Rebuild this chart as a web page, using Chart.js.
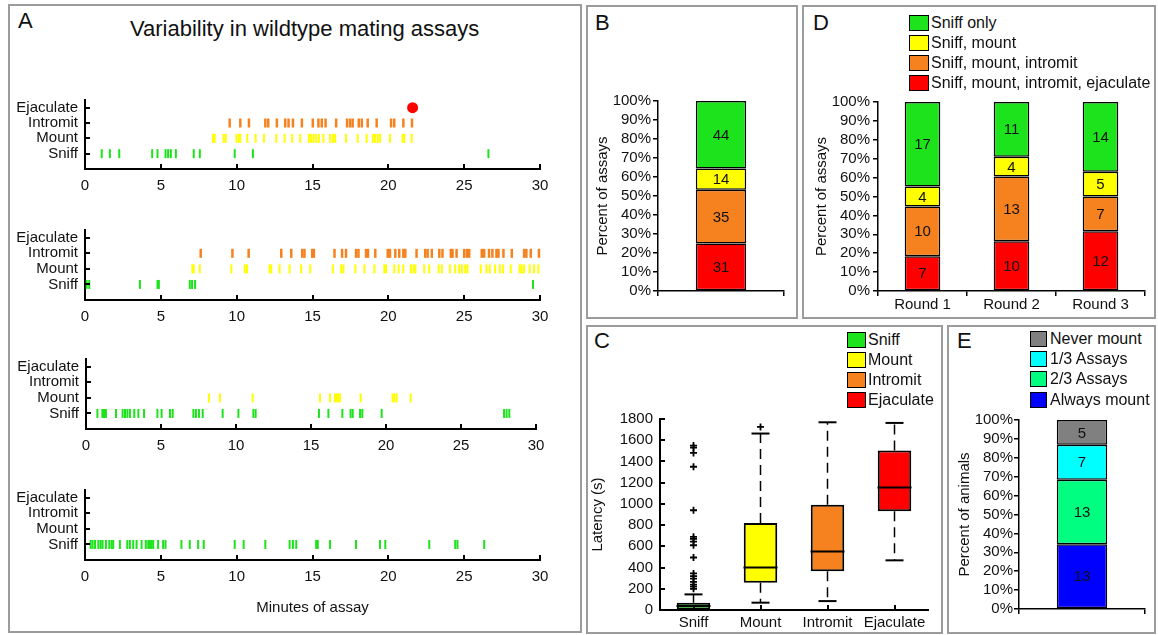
<!DOCTYPE html>
<html>
<head>
<meta charset="utf-8">
<title>Variability in wildtype mating assays</title>
<script src="https://cdn.jsdelivr.net/npm/chart.js@4.4.1/dist/chart.umd.min.js"></script>
<style>
  html, body { margin: 0; padding: 0; background: #fff; }
  body { width: 1158px; height: 635px; position: relative; overflow: hidden;
         font-family: "Liberation Sans", Arial, Helvetica, sans-serif; color: #111; }
  .panel { position: absolute; border: 2px solid #9b9b9b; box-sizing: border-box; }
  .letter { position: absolute; font-size: 22px; line-height: 24px; }
  .title { position: absolute; font-size: 22px; line-height: 24px; white-space: nowrap; }
  canvas { position: absolute; }
  .lg { position: absolute; font-size: 16px; line-height: 18px; white-space: nowrap; }
  .lg .sw { position: absolute; border: 1.5px solid #000; box-sizing: border-box; }
</style>
</head>
<body>
<div class="panel" style="left:8px;top:4px;width:574px;height:629px"></div>
<div class="panel" style="left:586px;top:5px;width:212px;height:314px"></div>
<div class="panel" style="left:802px;top:5px;width:354px;height:314px"></div>
<div class="panel" style="left:586px;top:325px;width:357px;height:309px"></div>
<div class="panel" style="left:947px;top:325px;width:209px;height:309px"></div>

<div class="letter" style="left:18px;top:9px">A</div>
<div class="letter" style="left:595px;top:11px">B</div>
<div class="letter" style="left:813px;top:11px">D</div>
<div class="letter" style="left:594px;top:329px">C</div>
<div class="letter" style="left:957px;top:329px">E</div>
<div class="title" style="left:130px;top:17px">Variability in wildtype mating assays</div>

<canvas id="row1"></canvas>
<canvas id="row2"></canvas>
<canvas id="row3"></canvas>
<canvas id="row4"></canvas>
<canvas id="chartB"></canvas>
<canvas id="chartD"></canvas>
<canvas id="chartC"></canvas>
<canvas id="chartE"></canvas>

<script>
// ---- colours ----
const GREEN = '#1de31d';
const YELLOW = '#ffff00';
const ORANGE = '#f5821f';
const RED = '#ff0000';

// ---- panel A: event times (minutes) for four example assays ----
const behaviourNames = ['Sniff', 'Mount', 'Intromit', 'Ejaculate'];

const assay1Sniff = [1.10, 1.64, 2.26, 4.43, 4.78, 5.31, 5.48, 5.66, 5.99, 7.17, 7.57, 9.87, 11.07, 26.6];
const assay1Mount = [8.44, 8.55, 9.14, 9.28, 9.98, 10.15, 10.24, 10.70, 11.25, 11.80, 12.61, 13.16, 13.66, 14.19,
  14.76, 14.91, 15.07, 15.24, 15.42, 15.72, 16.16, 16.34, 16.49, 17.21, 17.98, 18.57, 18.97, 19.12, 19.30,
  19.45, 20.11, 20.94, 21.05, 21.54];
const assay1Intromit = [9.54, 10.24, 10.81, 11.89, 12.08, 12.65, 13.20, 13.42, 13.71, 14.30, 15.02, 15.39, 15.61,
  15.86, 16.56, 17.28, 17.48, 17.65, 18.05, 18.25, 18.64, 19.23, 20.18, 20.39, 20.99, 21.56];
const assay1Ejaculate = [21.6];

const assay2Sniff = [0.11, 0.28, 3.62, 4.78, 4.87, 6.91, 7.06, 7.26, 29.54];
const assay2Mount = [7.08, 7.17, 7.57, 9.65, 10.53, 10.68, 12.17, 12.28, 12.83, 13.49, 14.25, 14.85, 16.34, 16.89,
  17.04, 17.83, 18.42, 19.08, 19.74, 19.85, 20.39, 20.68, 20.99, 21.49, 21.67, 21.78, 22.37, 22.70, 23.31,
  23.53, 24.06, 24.41, 24.67, 24.85, 25.07, 25.22, 26.10, 26.47, 26.69, 27.04, 27.35, 27.57, 28.07, 28.66,
  28.79, 28.95, 29.32, 29.61, 29.89];
const assay2Intromit = [7.63, 9.72, 10.79, 12.94, 13.60, 14.32, 14.47, 14.98, 15.09, 16.45, 16.95, 17.21, 17.87,
  18.03, 18.53, 18.66, 19.14, 19.96, 20.11, 20.46, 20.72, 20.99, 21.12, 21.86, 22.43, 22.59, 22.87, 23.36,
  23.57, 24.12, 24.23, 24.50, 25.00, 25.18, 25.33, 26.16, 26.32, 26.64, 26.86, 27.13, 27.26, 27.59, 28.14,
  28.95, 29.10, 29.39, 29.93];
const assay2Ejaculate = [];

const assay3Sniff = [0.76, 1.09, 1.20, 1.33, 2.00, 2.44, 2.60, 2.76, 2.93, 3.22, 3.49, 3.87, 4.76, 5.04, 5.60,
  5.78, 7.16, 7.33, 7.53, 7.78, 9.11, 10.16, 11.16, 11.31, 15.53, 16.16, 17.09, 17.64, 17.78, 18.27, 18.42,
  19.71, 27.87, 28.04, 28.22];
const assay3Mount = [8.20, 8.93, 11.11, 15.60, 16.27, 16.60, 16.71, 16.82, 16.93, 18.31, 20.44, 20.56, 20.71, 21.64];
const assay3Intromit = [];
const assay3Ejaculate = [];

const assay4Sniff = [0.37, 0.50, 0.66, 0.88, 1.03, 1.16, 1.38, 1.60, 1.75, 1.86, 2.30, 2.79, 2.96, 3.18, 3.40,
  3.73, 4.01, 4.17, 4.28, 4.39, 4.50, 4.82, 5.15, 5.31, 6.36, 6.91, 7.46, 7.83, 9.87, 10.46, 11.89, 13.49,
  13.71, 13.93, 15.24, 15.35, 16.16, 17.87, 19.45, 19.80, 22.70, 24.41, 24.56, 26.32];
const assay4Mount = [];
const assay4Intromit = [];
const assay4Ejaculate = [];

const minuteTicks = [0, 30, 5]; // min, max, step

// ---- panel B: outcome of all assays (counts) ----
const outcomeLabels = ['Sniff only', 'Sniff, mount', 'Sniff, mount, intromit', 'Sniff, mount, intromit, ejaculate'];
const outcomeColors = [GREEN, YELLOW, ORANGE, RED];
const allAssaysCounts = [44, 14, 35, 31];

// ---- panel D: outcome per round (counts) ----
const roundLabels = ['Round 1', 'Round 2', 'Round 3'];
const roundSniffOnly = [17, 11, 14];
const roundMount = [4, 4, 5];
const roundIntromit = [10, 13, 7];
const roundEjaculate = [7, 10, 12];

// ---- panel C: latency box plots (s) ----
const latencyLabels = ['Sniff', 'Mount', 'Intromit', 'Ejaculate'];
const latencyColors = [GREEN, YELLOW, ORANGE, RED];
const latencyQ1 = [0, 256, 365, 930];
const latencyMedian = [37, 400, 552, 1154];
const latencyQ3 = [69, 820, 992, 1504];
const latencyLow = [0, 69, 84, 468];
const latencyHigh = [147, 1663, 1769, 1763];
const sniffOutliers = [1550, 1530, 1480, 1350, 940, 690, 670, 645, 610, 495, 345, 320, 295, 265, 240, 220, 200];
const mountOutliers = [1725];

// ---- panel E: animals by mounting consistency (counts) ----
const animalLabels = ['Never mount', '1/3 Assays', '2/3 Assays', 'Always mount'];
const animalColors = ['#808080', '#00ffff', '#00ff80', '#0000ff'];
const animalCounts = [5, 7, 13, 13];

// ---- shared defaults ----
Chart.defaults.font.family = '"Liberation Sans", Arial, Helvetica, sans-serif';
Chart.defaults.font.size = 15;
Chart.defaults.color = '#111';
Chart.defaults.animation = false;
Chart.defaults.responsive = false;
Chart.defaults.events = [];
Chart.defaults.plugins.legend.display = false;
Chart.defaults.plugins.tooltip.enabled = false;

// tick marks that point into the plot area
const inwardTicks = {
  id: 'inwardTicks',
  afterDraw(chart, args, opts) {
    const { ctx, chartArea: a, scales } = chart;
    const len = opts.length || 5;
    ctx.save();
    ctx.strokeStyle = '#000';
    ctx.lineWidth = 2;
    ctx.beginPath();
    scales.x.ticks.forEach(t => {
      const p = Math.round(scales.x.getPixelForValue(t.value));
      ctx.moveTo(p, a.bottom); ctx.lineTo(p, a.bottom - len);
    });
    scales.y.ticks.forEach(t => {
      const p = Math.round(scales.y.getPixelForValue(t.value));
      ctx.moveTo(a.left, p); ctx.lineTo(a.left + len, p);
    });
    ctx.stroke();
    ctx.restore();
  }
};

// count written in the middle of every stacked segment
const segmentLabels = {
  id: 'segmentLabels',
  afterDatasetsDraw(chart) {
    const { ctx } = chart;
    ctx.save();
    ctx.font = '15px "Liberation Sans", Arial, sans-serif';
    ctx.fillStyle = '#111';
    ctx.textAlign = 'center';
    ctx.textBaseline = 'middle';
    chart.data.datasets.forEach((ds, di) => {
      if (!ds.counts) return;
      chart.getDatasetMeta(di).data.forEach((bar, i) => {
        ctx.fillText(String(ds.counts[i]), bar.x, (bar.y + bar.base) / 2 + 1);
      });
    });
    ctx.restore();
  }
};

// size and place a canvas so that its plot area lands on the given rectangle
function placeCanvas(id, g) {
  const c = document.getElementById(id);
  const left = g.left - g.axisW;
  const top = g.top - g.padTop;
  c.width = Math.round(g.right + g.padRight - left);
  c.height = Math.round(g.bottom + g.axisH - top);
  c.style.left = left + 'px';
  c.style.top = top + 'px';
  return c;
}

const flatTicks = { autoSkip: false, maxRotation: 0, minRotation: 0 };

// ---- panel A rasters ----
function tickSeries(times, y, color, width) {
  return {
    type: 'scatter',
    data: times.map(t => ({ x: t, y: y })),
    pointStyle: 'line', pointRotation: 90, pointRadius: 4.5,
    pointBorderWidth: width, pointBorderColor: color, pointBackgroundColor: color,
    clip: false
  };
}

function buildRaster(id, g, sniff, mount, intromit, ejaculate, xTitle) {
  const c = placeCanvas(id, g);
  return new Chart(c, {
    type: 'scatter',
    data: {
      datasets: [
        tickSeries(sniff, 1, GREEN, 2),
        tickSeries(mount, 2, YELLOW, 2),
        tickSeries(intromit, 3, ORANGE, 2.5),
        {
          type: 'scatter',
          data: ejaculate.map(t => ({ x: t, y: 4 })),
          pointStyle: 'circle', pointRadius: 5.5, pointBorderWidth: 0,
          pointBackgroundColor: RED, clip: false
        }
      ]
    },
    options: {
      devicePixelRatio: 1,
      layout: { padding: { top: g.padTop, right: g.padRight, left: 0, bottom: 0 } },
      plugins: { inwardTicks: { length: 5 } },
      scales: {
        x: {
          type: 'linear', min: minuteTicks[0], max: minuteTicks[1],
          ticks: { ...flatTicks, stepSize: minuteTicks[2], padding: 8, color: '#111' },
          grid: { display: true, drawOnChartArea: false, drawTicks: false },
          border: { color: '#000', width: 2 },
          title: { display: !!xTitle, text: xTitle || '', padding: 0, color: '#111', font: { size: 15 } },
          afterFit: s => { s.height = g.axisH; }
        },
        y: {
          type: 'linear', min: 0, max: 4.5,
          afterBuildTicks: s => { s.ticks = [1, 2, 3, 4].map(v => ({ value: v })); },
          ticks: { ...flatTicks, padding: 7, color: '#111', callback: v => behaviourNames[v - 1] },
          grid: { display: true, drawOnChartArea: false, drawTicks: false },
          border: { color: '#000', width: 2 },
          afterFit: s => { s.width = g.axisW; }
        }
      }
    },
    plugins: [inwardTicks]
  });
}

buildRaster('row1', { left: 85, top: 100, right: 540, bottom: 169, axisW: 85, axisH: 30, padTop: 18, padRight: 20 },
  assay1Sniff, assay1Mount, assay1Intromit, assay1Ejaculate);
buildRaster('row2', { left: 85, top: 230, right: 540, bottom: 300, axisW: 85, axisH: 30, padTop: 18, padRight: 20 },
  assay2Sniff, assay2Mount, assay2Intromit, assay2Ejaculate);
buildRaster('row3', { left: 86, top: 359, right: 536, bottom: 428.5, axisW: 85, axisH: 30, padTop: 18, padRight: 24 },
  assay3Sniff, assay3Mount, assay3Intromit, assay3Ejaculate);
buildRaster('row4', { left: 85, top: 489.5, right: 540, bottom: 559, axisW: 85, axisH: 57, padTop: 18, padRight: 20 },
  assay4Sniff, assay4Mount, assay4Intromit, assay4Ejaculate, 'Minutes of assay');

// ---- stacked percentage bars (B, D, E) ----
function buildStack(id, g, cats, series, yTitle) {
  const totals = cats.map((_, i) => series.reduce((s, d) => s + d.counts[i], 0));
  const c = placeCanvas(id, g);
  return new Chart(c, {
    type: 'bar',
    data: {
      labels: cats,
      datasets: series.map(s => ({
        label: s.label,
        counts: s.counts,
        data: s.counts.map((v, i) => v / totals[i] * 100),
        backgroundColor: s.color, borderColor: '#000', borderWidth: 1.5, borderSkipped: false,
        barPercentage: g.barPct, categoryPercentage: 1
      }))
    },
    options: {
      devicePixelRatio: 1,
      layout: { padding: { top: g.padTop, right: g.padRight, left: 0, bottom: 0 } },
      scales: {
        x: {
          stacked: true,
          grid: { display: true, offset: true, drawOnChartArea: false, drawTicks: true, tickLength: 5, color: '#000', lineWidth: 1.5 },
          border: { color: '#000', width: 1.5 },
          ticks: { ...flatTicks, padding: 0, color: '#111' },
          afterFit: s => { s.height = g.axisH; }
        },
        y: {
          stacked: true, min: 0, max: 100,
          ticks: { ...flatTicks, stepSize: 10, padding: g.tickPad, color: '#111', callback: v => v + '%' },
          grid: { display: true, drawOnChartArea: false, drawTicks: true, tickLength: 5, color: '#000', lineWidth: 1.5 },
          border: { color: '#000', width: 1.5 },
          title: { display: true, text: yTitle, padding: 0, color: '#111', font: { size: 15 } },
          afterFit: s => { s.width = g.axisW; }
        }
      }
    },
    plugins: [segmentLabels]
  });
}

// bottom segment first
buildStack('chartB', { left: 658, top: 101, right: 784, bottom: 291, axisW: 64, axisH: 12, padTop: 18, padRight: 6, tickPad: 2, barPct: 0.4 },
  [''],
  [3, 2, 1, 0].map(k => ({ label: outcomeLabels[k], color: outcomeColors[k], counts: [allAssaysCounts[k]] })),
  'Percent of assays');

buildStack('chartD', { left: 878, top: 102, right: 1145, bottom: 291, axisW: 65, axisH: 28, padTop: 18, padRight: 6, tickPad: 3, barPct: 0.4 },
  roundLabels,
  [
    { label: outcomeLabels[3], color: RED, counts: roundEjaculate },
    { label: outcomeLabels[2], color: ORANGE, counts: roundIntromit },
    { label: outcomeLabels[1], color: YELLOW, counts: roundMount },
    { label: outcomeLabels[0], color: GREEN, counts: roundSniffOnly }
  ],
  'Percent of assays');

buildStack('chartE', { left: 1019, top: 420, right: 1145, bottom: 609, axisW: 63, axisH: 12, padTop: 18, padRight: 6, tickPad: 1, barPct: 0.4 },
  [''],
  [3, 2, 1, 0].map(k => ({ label: animalLabels[k], color: animalColors[k], counts: [animalCounts[k]] })),
  'Percent of animals');

// ---- panel C box plots ----
(function () {
  const g = { left: 660, top: 418, right: 935, bottom: 610, axisW: 71, axisH: 25, padTop: 18, padRight: 12 };
  const c = placeCanvas('chartC', g);
  const whiskers = [];
  latencyLabels.forEach((cat, i) => {
    whiskers.push({ x: cat, y: latencyQ3[i] }, { x: cat, y: latencyHigh[i] }, { x: cat, y: null });
    whiskers.push({ x: cat, y: latencyQ1[i] }, { x: cat, y: latencyLow[i] }, { x: cat, y: null });
  });
  const caps = [];
  latencyLabels.forEach((cat, i) => {
    caps.push({ x: cat, y: latencyHigh[i] });
    if (latencyLow[i] < latencyQ1[i]) caps.push({ x: cat, y: latencyLow[i] });
  });
  const outliers = sniffOutliers.map(v => ({ x: 'Sniff', y: v }))
    .concat(mountOutliers.map(v => ({ x: 'Mount', y: v })));

  new Chart(c, {
    type: 'bar',
    data: {
      labels: latencyLabels,
      datasets: [
        {
          type: 'line', data: whiskers, order: 3,
          borderColor: '#000', borderWidth: 1.5, borderDash: [10, 6],
          pointRadius: 0, spanGaps: false, fill: false, tension: 0
        },
        {
          type: 'bar', order: 2,
          data: latencyQ1.map((q1, i) => [q1, latencyQ3[i]]),
          backgroundColor: latencyColors, borderColor: '#000', borderWidth: 2, borderSkipped: false,
          barPercentage: 0.5, categoryPercentage: 1
        },
        {
          type: 'scatter', order: 1,
          data: latencyLabels.map((cat, i) => ({ x: cat, y: latencyMedian[i] })),
          pointStyle: 'line', pointRadius: 17, pointBorderWidth: 2, pointBorderColor: '#000'
        },
        {
          type: 'scatter', order: 1, data: caps,
          pointStyle: 'line', pointRadius: 9, pointBorderWidth: 2, pointBorderColor: '#000'
        },
        {
          type: 'scatter', order: 0, data: outliers,
          pointStyle: 'cross', pointRadius: 3.5, pointBorderWidth: 1.8, pointBorderColor: '#000'
        }
      ]
    },
    options: {
      devicePixelRatio: 1,
      layout: { padding: { top: g.padTop, right: g.padRight, left: 0, bottom: 0 } },
      plugins: { inwardTicks: { length: 5 } },
      scales: {
        x: {
          type: 'category', offset: true,
          grid: { display: true, drawOnChartArea: false, drawTicks: false, offset: false },
          border: { color: '#000', width: 2 },
          ticks: { ...flatTicks, padding: 4, color: '#111' },
          afterFit: s => { s.height = g.axisH; }
        },
        y: {
          type: 'linear', min: 0, max: 1800,
          ticks: { ...flatTicks, stepSize: 200, padding: 7, color: '#111', callback: v => String(v) },
          grid: { display: true, drawOnChartArea: false, drawTicks: false },
          border: { color: '#000', width: 2 },
          title: { display: true, text: 'Latency (s)', padding: 0, color: '#111', font: { size: 15 } },
          afterFit: s => { s.width = g.axisW; }
        }
      }
    },
    plugins: [inwardTicks]
  });
})();

// ---- HTML legends ----
function legend(entries, box, textLeft, rows) {
  entries.forEach((e, i) => {
    const d = document.createElement('div');
    d.className = 'lg';
    d.style.left = textLeft + 'px';
    d.style.top = (rows[i] - 9) + 'px';
    d.textContent = e.label;
    const sw = document.createElement('span');
    sw.className = 'sw';
    sw.style.left = (box.left - textLeft) + 'px';
    sw.style.top = (9 - box.h / 2) + 'px';
    sw.style.width = box.w + 'px';
    sw.style.height = box.h + 'px';
    sw.style.background = e.color;
    d.appendChild(sw);
    document.body.appendChild(d);
  });
}
legend(outcomeLabels.map((l, i) => ({ label: l, color: outcomeColors[i] })),
  { left: 909, w: 20, h: 16 }, 931, [23, 43, 63, 83]);
legend(latencyLabels.map((l, i) => ({ label: l, color: latencyColors[i] })),
  { left: 847, w: 19, h: 16 }, 868, [340, 360, 380, 400]);
legend(animalLabels.map((l, i) => ({ label: l, color: animalColors[i] })),
  { left: 1030, w: 17, h: 16 }, 1050, [339, 359, 379, 400]);
</script>
</body>
</html>
